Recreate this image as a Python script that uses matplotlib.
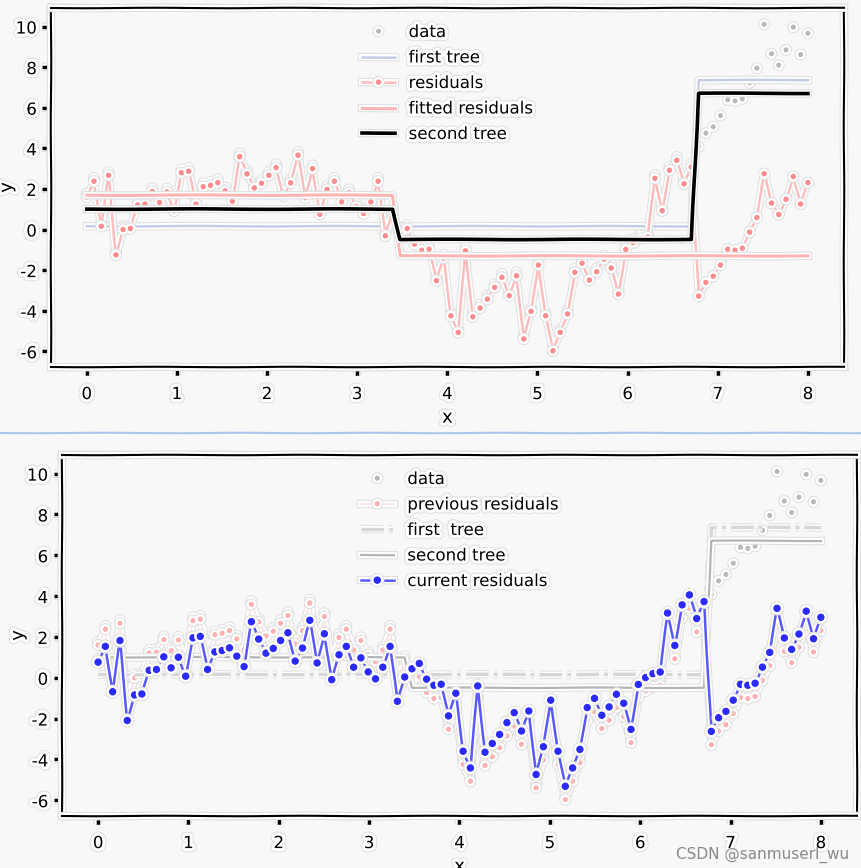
import matplotlib
matplotlib.use('Agg')
import matplotlib.pyplot as plt
import matplotlib.patheffects as pe
from matplotlib.lines import Line2D
import numpy as np

# sample grid and residuals of the first tree
x = np.linspace(0, 8, 100)
residuals = [
    1.61, 2.38, 0.16, 2.67, -1.25, 0.00, 0.05, 1.21, 1.25, 1.87,
    1.33, 1.85, 0.92, 2.80, 2.87, 1.25, 2.11, 2.18, 2.31, 1.90,
    1.39, 3.59, 2.74, 2.05, 2.28, 2.67, 3.05, 1.66, 2.30, 3.66,
    1.57, 3.00, 0.75, 1.97, 2.38, 1.36, 1.82, 1.13, 0.79, 1.36,
    2.38, -0.31, 0.88, -0.21, 0.05, -0.72, -1.02, -0.97, -2.52, -1.41,
    -4.25, -5.07, -1.05, -4.30, -3.87, -3.43, -2.85, -2.36, -3.26, -2.28,
    -5.39, -4.03, -1.75, -4.25, -5.97, -5.07, -4.16, -2.11, -1.66, -2.49,
    -2.08, -1.46, -1.90, -3.18, -0.98, -0.64, -0.45, -0.37, 2.52, 0.93,
    2.92, 3.41, 2.25, 3.08, -3.28, -2.61, -2.30, -1.75, -0.97, -1.02,
    -0.92, -0.13, 0.59, 2.75, 1.30, 0.74, 1.49, 2.61, 1.26, 2.31,
]

# tree stumps: split point, left value, right value
first_split, first_left, first_right = 6.75, 0.16, 7.36
fit_split, fit_left, fit_right = 3.43, 1.69, -1.30
learning_rate = 0.5

first_tree = np.where(x < first_split, first_left, first_right)
fitted = np.where(x < fit_split, fit_left, fit_right)
y = first_tree + np.array(residuals)
second_tree = first_tree + learning_rate * fitted
current = y - second_tree

#--------------------------------------------------------------------------------------------------
plt.xkcd(scale=0.25, length=150, randomness=2)
plt.rcParams['font.family'] = ['DejaVu Sans']
plt.rcParams['path.effects'] = [pe.withStroke(linewidth=6, foreground='#e0e0e0'),
                                pe.withStroke(linewidth=4.5, foreground='white')]
plt.rcParams['axes.unicode_minus'] = False

bg = '#f8f8f8'
fig = plt.figure(figsize=(8.62, 8.68), dpi=100, facecolor=bg)

ax1 = fig.add_axes([0.0588, 0.5772, 0.9203, 0.4136], facecolor=bg)
ax1.plot(x, y, 'o', ms=2.5, color='#b8b8b8', label='data')
ax1.plot(x, first_tree, color='#c3cde6', lw=1.8, label='first tree')
ax1.plot(x, residuals, '-o', ms=2.8, lw=1.8, color='#ffbcbc', mfc='#ff8c8c', mec='#ff8c8c',
         label='residuals')
ax1.plot(x, fitted, color='#ffb4b4', lw=2.2, label='fitted residuals')
ax1.plot(x, second_tree, color='black', lw=2.6, label='second tree')

ax2 = fig.add_axes([0.0719, 0.0599, 0.9223, 0.4159], facecolor=bg)
ax2.plot(x, y, 'o', ms=2.5, color='#b8b8b8', label='data')
ax2.plot(x, residuals, '-o', ms=2.6, lw=1.2, color='#ffe4e4', mfc='#ffb0b0', mec='#ffb0b0',
         label='previous residuals')
ax2.plot(x, first_tree, '-.', color='#d6d6d6', lw=2.5, label='first  tree')
ax2.plot(x, second_tree, color='#b4b4b4', lw=1.6, label='second tree')
ax2.plot(x, current, '-o', ms=4.2, lw=1.8, color='#5858ff', mfc='#2a2aff', mec='#2a2aff',
         label='current residuals')

for ax in (ax1, ax2):
    ax.set_xticks(range(9))
    ax.set_yticks(range(-6, 11, 2))
    ax.tick_params(axis='x', labelsize=12, pad=7, length=6, width=2.5)
    ax.tick_params(axis='y', labelsize=12, pad=4, length=6, width=2.5)
    ax.set_xlabel('x', fontsize=13, labelpad=4)
    ax.set_ylabel('y', fontsize=13, labelpad=0)
    ax.legend(loc='upper center', frameon=False, fontsize=12, labelspacing=0.45,
              handlelength=2.0, handletextpad=0.8)

# screenshot seam between the two panels
fig.add_artist(Line2D([0, 1], [1 - 433 / 868, 1 - 433 / 868], transform=fig.transFigure,
                      color='#a9c6ec', lw=1.5, path_effects=[]))

fig.text(0.985, 0.006, 'CSDN @sanmuserl_wu', ha='right', va='bottom', fontsize=11,
         color='#8a8a8a', path_effects=[])

fig.savefig('out.png', dpi=100, facecolor=bg)
